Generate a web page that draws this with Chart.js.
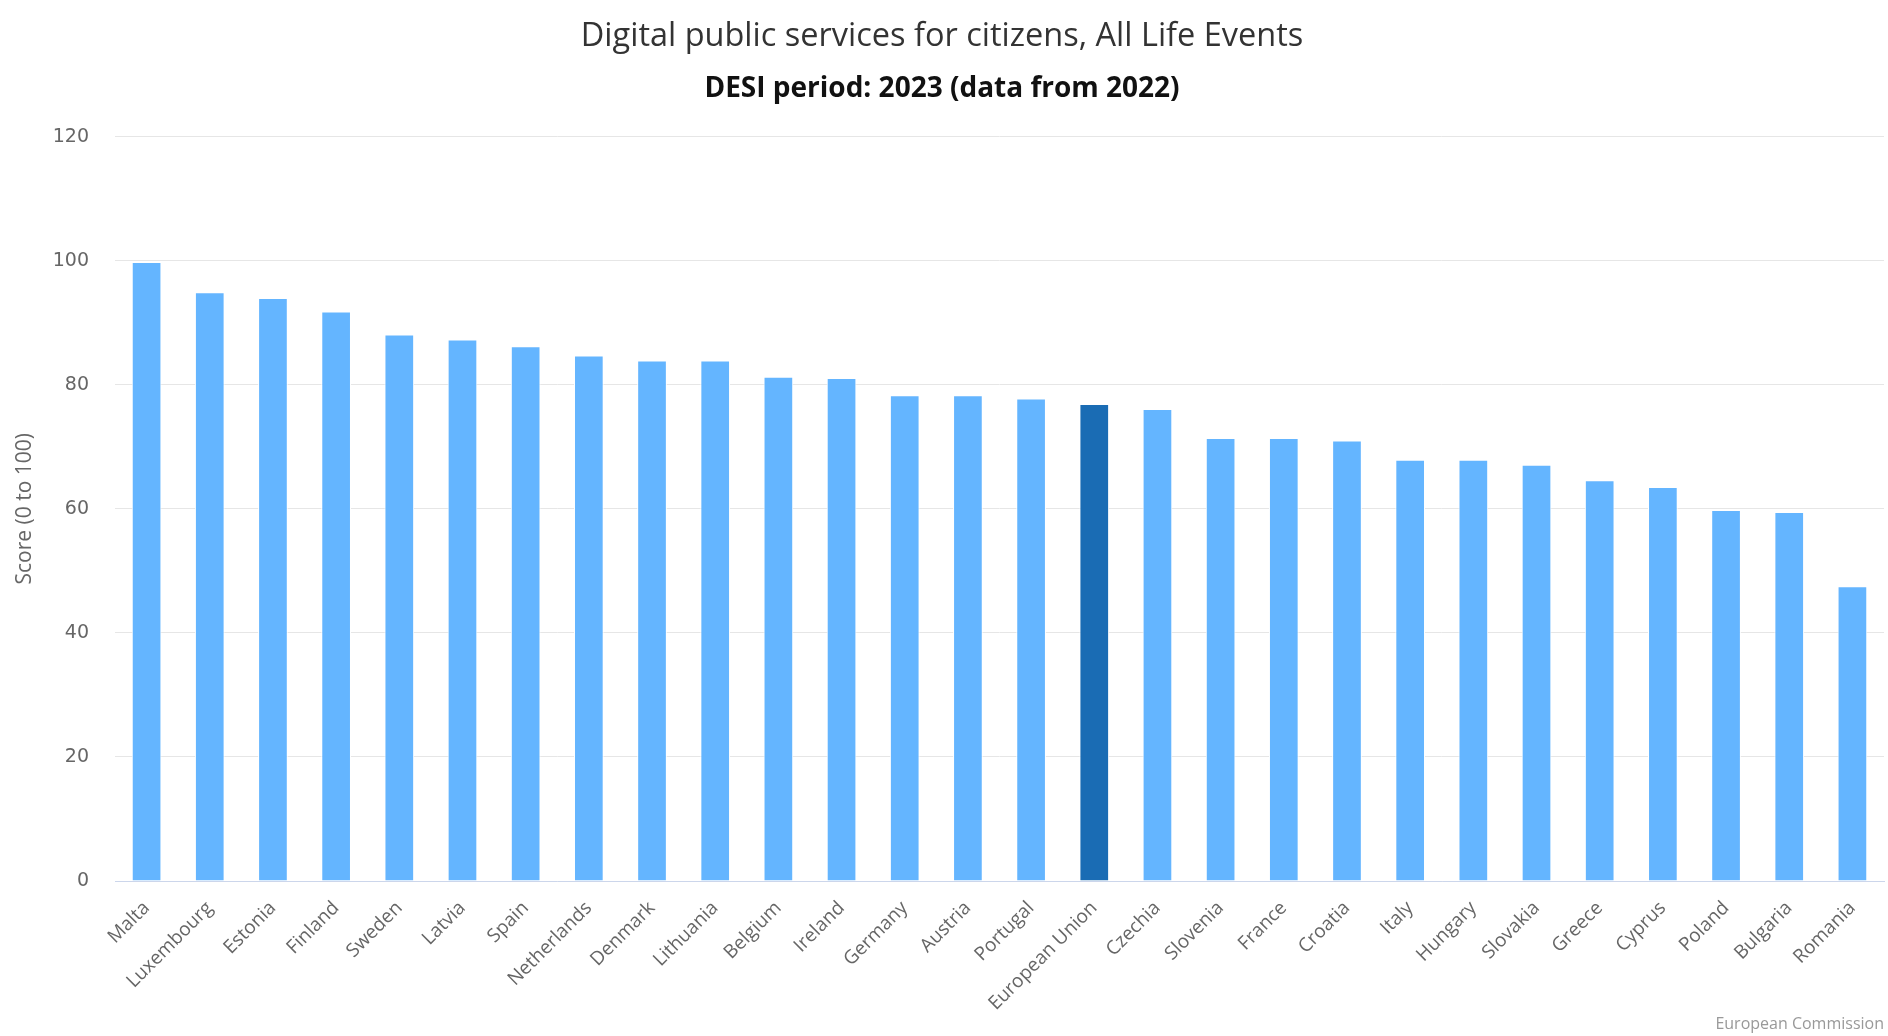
<!DOCTYPE html>
<html lang="en">
<head>
    <meta charset="UTF-8">
    <title>Digital public services for citizens, All Life Events</title>
    <script src="https://cdn.jsdelivr.net/npm/chart.js@4.4.0/dist/chart.umd.min.js"></script>
    <style>
        body {
            margin: 0;
            background: #ffffff;
            font-family: "Open Sans", sans-serif;
        }
        .chart-container {
            position: relative;
            width: 1888px;
            height: 1036px;
        }
        .credit {
            position: absolute;
            right: 4px;
            bottom: 2px;
            font-size: 16px;
            color: #999999;
        }
    </style>
</head>
<body>
    <div class="chart-container">
        <canvas id="desiChart"></canvas>
        <div class="credit">European Commission</div>
    </div>

    <script>
        const countries = ['Malta', 'Luxembourg', 'Estonia', 'Finland', 'Sweden', 'Latvia', 'Spain',
            'Netherlands', 'Denmark', 'Lithuania', 'Belgium', 'Ireland', 'Germany', 'Austria',
            'Portugal', 'European Union', 'Czechia', 'Slovenia', 'France', 'Croatia', 'Italy',
            'Hungary', 'Slovakia', 'Greece', 'Cyprus', 'Poland', 'Bulgaria', 'Romania'];

        const scores = [99.8, 94.9, 94.0, 91.8, 88.1, 87.3, 86.2,
            84.7, 83.9, 83.9, 81.3, 81.1, 78.3, 78.3,
            77.8, 76.9, 76.1, 71.4, 71.4, 71.0, 67.9,
            67.9, 67.1, 64.6, 63.5, 59.8, 59.5, 47.5];

        const highlight = 'European Union';
        const barColors = countries.map(c => c === highlight ? '#1a6cb4' : '#64b5ff');

        const ctx = document.getElementById('desiChart').getContext('2d');

        new Chart(ctx, {
            type: 'bar',
            data: {
                labels: countries,
                datasets: [{
                    label: 'Score',
                    data: scores,
                    backgroundColor: barColors,
                    borderColor: '#ffffff',
                    borderWidth: 1,
                    barPercentage: 0.47,
                    categoryPercentage: 1.0
                }]
            },
            options: {
                responsive: true,
                maintainAspectRatio: false,
                animation: false,
                layout: {
                    padding: { left: 0, right: 4, top: 0, bottom: 0 }
                },
                plugins: {
                    legend: { display: false },
                    tooltip: { enabled: false },
                    title: {
                        display: true,
                        text: 'Digital public services for citizens, All Life Events',
                        color: '#333333',
                        font: { family: 'Open Sans', size: 32.5, weight: 'normal' },
                        padding: { top: 17, bottom: 16 }
                    },
                    subtitle: {
                        display: true,
                        text: 'DESI period: 2023 (data from 2022)',
                        color: '#111111',
                        font: { family: 'Open Sans', size: 28, weight: 'bold' },
                        padding: { top: 0, bottom: 31 }
                    }
                },
                scales: {
                    x: {
                        grid: { display: false },
                        border: { display: true, color: '#ccd6eb', width: 1 },
                        ticks: {
                            color: '#666666',
                            font: { family: 'Open Sans', size: 19 },
                            maxRotation: 45,
                            minRotation: 45,
                            autoSkip: false,
                            padding: 8
                        },
                        afterFit: (scale) => { scale.height = 155; }
                    },
                    y: {
                        min: 0,
                        max: 120,
                        grid: { color: '#e6e6e6', lineWidth: 1, drawTicks: false },
                        border: { display: false },
                        ticks: {
                            stepSize: 20,
                            color: '#666666',
                            font: { family: 'DejaVu Sans', size: 19 },
                            padding: 26
                        },
                        title: {
                            display: true,
                            text: 'Score (0 to 100)',
                            color: '#666666',
                            font: { family: 'Open Sans', size: 21 },
                            padding: { top: 12, bottom: 0 }
                        },
                        afterFit: (scale) => { scale.width = 115; }
                    }
                }
            }
        });
    </script>
</body>
</html>
